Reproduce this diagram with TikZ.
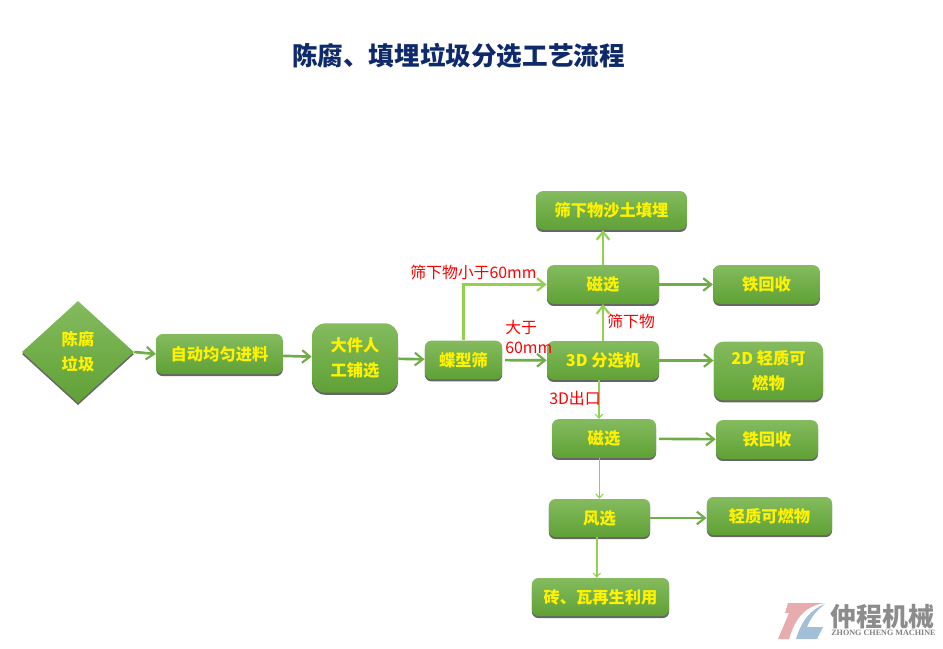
\documentclass[tikz,border=0pt]{standalone}
\usepackage{fontspec}
\setmainfont{Noto Sans CJK SC}
\newfontfamily\logofont{Liberation Serif}
\usepackage{xcolor}
\usetikzlibrary{positioning,shapes.geometric,arrows.meta,shadows}
\definecolor{boxtop}{HTML}{84BB5E}
\definecolor{boxbottom}{HTML}{5FA135}
\definecolor{linedark}{HTML}{70AD47}
\definecolor{linelight}{HTML}{92D050}
\definecolor{titleblue}{HTML}{0F2A6B}
\definecolor{logopink}{HTML}{E9ACAE}
\definecolor{logoblue}{HTML}{A3BFD8}
\tikzset{boxshadow/.style={general shadow={shadow yshift=-1.6pt,fill=black!60}}}
\tikzstyle{stepbox} = [rectangle, rounded corners=5pt, inner sep=0pt, align=center, text=yellow, font=\fontsize{12.2}{18.5}\selectfont\bfseries, top color=boxtop, bottom color=boxbottom, boxshadow]
\tikzstyle{startbox} = [diamond, inner sep=0pt, align=center, text=yellow, font=\fontsize{12.2}{18.5}\selectfont\bfseries, top color=boxtop, bottom color=boxbottom, boxshadow, minimum width=84pt, minimum height=76.5pt]
\tikzstyle{note} = [inner sep=0pt, text=red, font=\fontsize{11.9}{15}\selectfont]
\tikzstyle{arrow} = [line width=2pt, linedark, -{Straight Barb[length=6pt,width=9.5pt,line width=1.6pt]}]
\tikzstyle{lightarrow} = [line width=2pt, linelight, -{Straight Barb[length=6pt,width=9.5pt,line width=1.6pt]}]
\tikzstyle{thinarrow} = [line width=1pt, linelight, -{Straight Barb[length=3pt,width=5.5pt,line width=0.8pt]}]
\begin{document}
\begin{tikzpicture}[x=0.75pt,y=-0.75pt]
          \useasboundingbox (0,0) rectangle (943,649);
          \node (title) [inner sep=0pt, text=titleblue, font=\fontsize{19.2}{24}\selectfont\bfseries] at (458.5,56) {陈腐、填埋垃圾分选工艺流程};
          \node (waste) [startbox] at (78,352) {陈腐\\垃圾};
          \node (feed) [stepbox, minimum width=95pt, minimum height=30pt] at (219.5,354) {自动均匀进料};
          \node (manual) [stepbox, rounded corners=10pt, minimum width=64.5pt, minimum height=52pt] at (355,358) {大件人\\工铺选};
          \node (screen) [stepbox, minimum width=58pt, minimum height=29pt] at (463.5,360) {蝶型筛};
          \node (sand) [stepbox, minimum width=113pt, minimum height=29pt] at (611.5,210.5) {筛下物沙土填埋};
          \node (magone) [stepbox, minimum width=84pt, minimum height=29pt] at (603,284.5) {磁选};
          \node (ironone) [stepbox, minimum width=80pt, minimum height=29pt] at (766.5,284.5) {铁回收};
          \node (sorter) [stepbox, minimum width=84pt, minimum height=29pt] at (603,360.5) {3D 分选机};
          \node (lightone) [stepbox, rounded corners=7pt, minimum width=82pt, minimum height=44pt] at (768.5,371) {2D 轻质可\\燃物};
          \node (magtwo) [stepbox, minimum width=78pt, minimum height=29pt] at (604,438.5) {磁选};
          \node (irontwo) [stepbox, minimum width=76.5pt, minimum height=29pt] at (767,439.5) {铁回收};
          \node (wind) [stepbox, minimum width=76pt, minimum height=28.5pt] at (599.5,518) {风选};
          \node (lighttwo) [stepbox, minimum width=94pt, minimum height=28.5pt] at (769.5,516) {轻质可燃物};
          \node (brick) [stepbox, minimum width=103pt, minimum height=28.5pt] at (600.5,597) {砖、瓦再生利用};
          \draw [arrow] (waste.east) -- (feed.west);
          \draw [arrow] (feed) -- (manual);
          \draw [arrow] (manual) -- (screen);
          \draw [arrow, shorten <=2pt] (screen) -- (sorter);
          \draw [lightarrow] (screen.north) |- (magone.west);
          \draw [lightarrow] (magone.north) -- (magone.north |- sand.south);
          \draw [lightarrow] (sorter.north) -- (magone.south);
          \draw [arrow] (magone) -- (ironone);
          \draw [arrow] (sorter.east) -- (sorter.east -| lightone.west);
          \draw [thinarrow] ([xshift=-3pt]sorter.south) -- ([xshift=-3pt]sorter.south |- magtwo.north);
          \draw [arrow, shorten <=2pt] (magtwo) -- (irontwo);
          \draw [thinarrow] (magtwo.south -| wind.north) -- (wind.north);
          \draw [arrow] (wind.east) -- (wind.east -| lighttwo.west);
          \draw [thinarrow] ([xshift=-2pt]wind.south) -- ([xshift=-2pt]wind.south |- brick.north);
          \node (notesmall) [note, anchor=west] at (410,272) {筛下物小于60mm};
          \node (notelarge) [note, anchor=west, align=left] at (505,337) {大于\\60mm};
          \node (noteunder) [note, anchor=west] at (607,321) {筛下物};
          \node (noteexit) [note, anchor=west] at (549,398) {3D出口};
          % logo
          \fill [logopink] (788,603) -- (825,603) .. controls (806,606) and (796,616) .. (789,639) -- (778,639) -- (789,613) -- (785,613) -- cycle;
          \fill [logoblue] (825,604) .. controls (810,610) and (802,620) .. (796,639) -- (817,639) -- (823,627) -- (807,627) .. controls (811,617) and (817,610) .. (825,604) -- cycle;
          \node (logoname) [inner sep=0pt, anchor=west, text=black!45, font=\fontsize{19.5}{22}\selectfont\bfseries] at (830,617) {仲程机械};
          \node (logosub) [inner sep=0pt, anchor=west, text=black!50, font=\logofont\fontsize{6.1}{7}\selectfont\bfseries] at (831,633) {ZHONG CHENG MACHINE};
\end{tikzpicture}
\end{document}
